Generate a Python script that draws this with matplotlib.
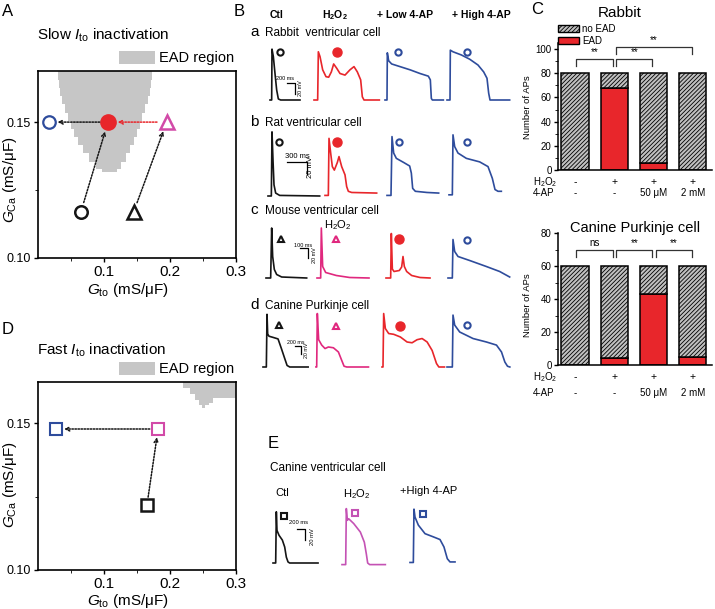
import numpy as np
import matplotlib.pyplot as plt
from matplotlib.patches import Patch
from matplotlib.transforms import blended_transform_factory

plt.rcParams['font.family'] = ['Liberation Sans', 'DejaVu Sans']
plt.rcParams['mathtext.fontset'] = 'custom'
plt.rcParams['mathtext.rm'] = 'Liberation Sans'
plt.rcParams['mathtext.it'] = 'Liberation Sans:italic'
plt.rcParams['mathtext.bf'] = 'Liberation Sans:bold'
plt.rcParams['hatch.linewidth'] = 0.6

# ---- data: panel A (slow Ito inactivation) ----
ead_a_gca = [0.1316, 0.134, 0.137, 0.140, 0.143, 0.146, 0.149, 0.152, 0.155, 0.158, 0.161, 0.164, 0.167, 0.170]
ead_a_left = [0.097, 0.088, 0.078, 0.068, 0.061, 0.055, 0.050, 0.045, 0.041, 0.037, 0.034, 0.032, 0.030, 0.030]
ead_a_right = [0.120, 0.126, 0.133, 0.139, 0.145, 0.150, 0.154, 0.158, 0.162, 0.166, 0.169, 0.171, 0.173, 0.173]
a_gto = [0.065, 0.145, 0.106, 0.195, 0.017]   # ctl circle, ctl triangle, H2O2 circle, H2O2 triangle, 4-AP circle
a_gca = [0.117, 0.117, 0.150, 0.150, 0.150]

# ---- data: panel D (fast Ito inactivation) ----
ead_d_gto = [0.215, 0.225, 0.235, 0.241, 0.246, 0.250, 0.255, 0.262, 0.268, 0.300]
ead_d_low = [0.164, 0.162, 0.160, 0.158, 0.156, 0.155, 0.156, 0.157, 0.1585, 0.1585]
d_gto = [0.165, 0.182, 0.027]   # ctl, H2O2, 4-AP squares
d_gca = [0.122, 0.148, 0.148]

# ---- data: panel B/E action potentials, (ms, mV) ----
rabbit_ctl = [(0, -85), (40, -85), (48, 11), (80, -3), (120, -35), (160, -66), (200, -83), (256, -85), (720, -85)]
rabbit_h2o2 = [(0, -85), (88, -85), (104, 6), (144, -3), (208, -28), (288, -41), (352, -42), (416, -32), (472, -17),
               (544, -25), (624, -35), (744, -38), (864, -28), (960, -22), (1040, -32), (1120, -47), (1160, -79),
               (1200, -85), (1568, -85)]
rabbit_low = [(0, -85), (48, -85), (56, 4), (88, -11), (160, -17), (360, -22), (600, -28), (840, -35), (1040, -40),
              (1088, -47), (1112, -82), (1136, -85), (1400, -85)]
rabbit_high = [(0, -85), (72, -85), (80, 9), (144, 6), (344, 0), (544, -8), (744, -19), (880, -32), (960, -44),
               (1000, -72), (1032, -85), (1504, -85)]

rat_ctl = [(0, -85), (50, -85), (60, 24), (75, -24), (90, -66), (115, -80), (175, -84), (775, -85)]
rat_h2o2 = [(0, -84), (50, -84), (60, 13), (85, -12), (110, -35), (140, -41), (185, -28), (210, -18), (250, -35),
            (300, -49), (325, -69), (350, -77), (400, -79), (775, -80)]
rat_low = [(0, -84), (60, -84), (75, 16), (100, -12), (140, -21), (250, -28), (340, -34), (365, -46), (385, -72),
           (425, -77), (600, -79), (775, -80)]
rat_high = [(0, -83), (50, -83), (60, 19), (85, -1), (135, -12), (260, -21), (460, -27), (585, -35), (650, -55),
            (690, -74), (735, -77), (785, -77)]

mouse_ctl = [(0, -85), (56, -85), (68, 15), (80, -42), (100, -68), (128, -78), (188, -83), (488, -85)]
mouse_h2o2 = [(0, -85), (44, -85), (52, 15), (68, -62), (104, -74), (232, -80), (392, -84), (624, -85)]
mouse_low = [(0, -85), (56, -85), (64, 4), (76, -67), (96, -72), (160, -70), (188, -63), (204, -42), (220, -62),
             (248, -72), (308, -80), (408, -84), (528, -85)]
mouse_high = [(0, -85), (52, -85), (60, -8), (80, -32), (120, -42), (260, -50), (460, -62), (620, -72), (740, -83)]

purk_ctl = [(0, -85), (118, -85), (142, 52), (165, 1), (212, -5), (354, -8), (531, -12), (649, -37), (767, -63),
            (850, -81), (944, -85), (1593, -85)]
purk_h2o2 = [(0, -85), (24, -85), (47, 54), (94, -14), (201, -28), (319, -37), (437, -33), (614, -35), (791, -46),
             (909, -68), (991, -83), (1086, -85), (1852, -85)]
purk_low = [(0, -85), (35, -85), (59, 54), (118, 15), (236, 2), (413, 0), (649, -7), (885, -20), (1062, -22),
            (1239, -14), (1416, -11), (1593, -20), (1770, -42), (1924, -76), (2006, -85), (2206, -85)]
purk_high = [(0, -85), (189, -85), (212, 50), (271, 24), (448, 6), (920, -11), (1392, -20), (1746, -28),
             (1924, -46), (2042, -72), (2136, -83), (2218, -85)]

cvm_ctl = [(0, -85), (70, -85), (87, 11), (104, -24), (157, -33), (244, -42), (305, -55), (348, -74), (392, -83),
           (435, -85), (1175, -85)]
cvm_h2o2 = [(0, -88), (96, -88), (113, 17), (139, -5), (174, -2), (305, -11), (479, -27), (583, -46), (635, -68),
            (670, -85), (722, -88), (1131, -88)]
cvm_high = [(0, -84), (87, -84), (104, 16), (131, 1), (218, -14), (392, -30), (609, -36), (783, -41), (887, -55),
            (974, -77), (1044, -83), (1175, -83)]

# symbol position on each trace (ms, mV)
rabbit_marks = [(240, 5), (545, 5), (320, 5), (490, 5)]
rat_marks = [(165, 6), (175, 7), (174, 7), (276, 7)]
mouse_marks = [(176, -7), (233, -7), (160, -7), (233, -8)]
purk_marks = [(565, 23), (706, 21), (621, 21), (706, 23)]
cvm_marks = [(287, 4), (347, 8), (331, 6)]

# ---- data: panel C ----
conditions = [0, 1, 2, 3]
h2o2_row = ['-', '+', '+', '+']
ap4_row = ['-', '-', '50 \u03bcM', '2 mM']
rabbit_total = [80, 80, 80, 80]
rabbit_ead = [0, 68, 6, 0]
rabbit_pairs = [(0, 1), (1, 2), (1, 3)]
rabbit_levels = [92, 92, 102]
rabbit_sig = ['**', '**', '**']
canine_total = [60, 60, 60, 60]
canine_ead = [0, 4, 43, 5]
canine_pairs = [(0, 1), (1, 2), (2, 3)]
canine_levels = [70, 70, 70]
canine_sig = ['ns', '**', '**']

BLACK = '#151515'
RED = '#e8262b'
BLUE = '#2e4c9c'
PINK = '#e0287e'
PURPLE = '#c452b4'
MAG = '#d24aa8'
GRAY = '#c6c6c6'
HATCHFACE = '#c0c0c0'
HATCH = '////////'

W, H = 715, 609
fig = plt.figure(figsize=(W / 100, H / 100), dpi=100)


def px_axes(l, t, r, b):
    return fig.add_axes([l / W, 1 - b / H, (r - l) / W, (b - t) / H])


def ftext(x, y, s, **kw):
    kw.setdefault('va', 'center')
    fig.text(x / W, 1 - y / H, s, **kw)


# ================= A and D =================
def phase_axes(t, b, ylim_top):
    ax = px_axes(38, t, 236, b)
    ax.set_xlim(0, 0.3)
    ax.set_ylim(0.10, ylim_top)
    ax.set_xticks([0.1, 0.2, 0.3])
    ax.set_xticklabels(['0.1', '0.2', '0.3'], fontsize=11)
    ax.set_xticks([0.05, 0.15, 0.25], minor=True)
    ax.set_yticks([0.10, 0.15])
    ax.set_yticklabels(['0.10', '0.15'], fontsize=9)
    ax.set_yticks([0.125], minor=True)
    ax.tick_params(direction='out', length=3, width=1, pad=2)
    ax.tick_params(which='minor', direction='out', length=2)
    for s in ax.spines.values():
        s.set_linewidth(1.2)
    ax.legend(handles=[Patch(facecolor=GRAY, edgecolor='none', label='EAD region')], loc='lower right',
              bbox_to_anchor=(0.99, 1.03), frameon=False, fontsize=10.5, handlelength=2.5,
              handleheight=0.95, handletextpad=0.25, borderpad=0, borderaxespad=0)
    return ax


def arrow(ax, p0, p1, color, sa, sb):
    ax.annotate('', xy=p1, xytext=p0,
                arrowprops=dict(arrowstyle='->', color=color, lw=1.1, linestyle=(0, (1, 1)),
                                shrinkA=sa, shrinkB=sb, mutation_scale=7))


axA = phase_axes(71, 258, 0.1688)
axA.fill_betweenx(ead_a_gca, ead_a_left, ead_a_right, step='mid', color=GRAY, lw=0)
pa = list(zip(a_gto, a_gca))
arrow(axA, pa[0], pa[2], BLACK, 7, 7)
arrow(axA, pa[1], pa[3], BLACK, 7, 7)
arrow(axA, pa[3], pa[2], RED, 7, 7)
arrow(axA, pa[2], pa[4], BLACK, 6, 6)
axA.plot(a_gto[0], a_gca[0], 'o', mfc='none', mec=BLACK, mew=1.8, ms=9)
axA.plot(a_gto[1], a_gca[1], '^', mfc='none', mec=BLACK, mew=1.8, ms=10)
axA.plot(a_gto[2], a_gca[2], 'o', color=RED, ms=11)
axA.plot(a_gto[3], a_gca[3], '^', mfc='none', mec=MAG, mew=1.8, ms=10)
axA.plot(a_gto[4], a_gca[4], 'o', mfc='none', mec=BLUE, mew=1.6, ms=9)

axD = phase_axes(382, 570, 0.164)
axD.fill_between(ead_d_gto, ead_d_low, 0.17, step='mid', color=GRAY, lw=0)
pd_ = list(zip(d_gto, d_gca))
arrow(axD, pd_[0], pd_[1], BLACK, 6, 6)
arrow(axD, pd_[1], pd_[2], BLACK, 6, 6)
axD.plot(d_gto[0], d_gca[0], 's', mfc='none', mec=BLACK, mew=1.8, ms=8)
axD.plot(d_gto[1], d_gca[1], 's', mfc='none', mec=MAG, mew=1.5, ms=8)
axD.plot(d_gto[2], d_gca[2], 's', mfc='none', mec=BLUE, mew=1.5, ms=8)

GCA = r'$G_{\rm Ca}$ (mS/' + '\u03bcF)'
GTO = r'$G_{\rm to}$ (mS/' + '\u03bcF)'
ftext(2, 11, 'A', fontsize=12)
ftext(37, 35, r'Slow $I_{\rm to}$ inactivation', fontsize=11)
ftext(10, 180, GCA, fontsize=11, rotation=90, ha='center')
ftext(128, 290, GTO, fontsize=11, ha='center')
ftext(2, 329, 'D', fontsize=12)
ftext(37, 350, r'Fast $I_{\rm to}$ inactivation', fontsize=11)
ftext(10, 485, GCA, fontsize=11, rotation=90, ha='center')
ftext(128, 601, GTO, fontsize=11, ha='center')


# ================= B and E traces =================
def trace_row(base_y, ms_px, mv_px, top, bottom, left=262, right=512):
    ax = px_axes(left, top, right, bottom)
    ax.set_xlim(0, (right - left) * ms_px)
    ax.set_ylim(-85 - (bottom - base_y) * mv_px, -85 + (base_y - top) * mv_px)
    ax.axis('off')
    to_ms = lambda px: (px - left) * ms_px
    to_mv = lambda py: -85 + (base_y - py) * mv_px
    return ax, to_ms, to_mv


def draw_traces(row, traces, starts, colors, marks, styles):
    ax, to_ms, to_mv = row
    for tr, x0, c, mk, st in zip(traces, starts, colors, marks, styles):
        t = np.array([p[0] for p in tr]) + to_ms(x0)
        v = [p[1] for p in tr]
        ax.plot(t, v, color=c, lw=1.2, solid_joinstyle='round')
        sym, filled, ms = st
        if filled:
            ax.plot(mk[0] + to_ms(x0), mk[1], sym, color=c, ms=ms)
        else:
            ax.plot(mk[0] + to_ms(x0), mk[1], sym, mfc='none', mec=c, mew=1.5, ms=ms)


def scale_bar(row, cx, cy, t_len, v_len):
    ax, to_ms, to_mv = row
    x, y = to_ms(cx), to_mv(cy)
    ax.plot([x - t_len, x, x], [y, y, y - v_len], color='k', lw=0.9)


circ_styles = [('o', False, 4.5), ('o', True, 6.5), ('o', False, 4.5), ('o', False, 4.5)]
tri_styles = [('^', False, 5), ('^', False, 5), ('o', True, 6.5), ('o', False, 4.5)]
sq_styles = [('s', False, 5), ('s', False, 5), ('s', False, 5)]

row_a = trace_row(100, 24, 1.887, 40, 106)
draw_traces(row_a, [rabbit_ctl, rabbit_h2o2, rabbit_low, rabbit_high], [270, 314, 385, 447],
            [BLACK, RED, BLUE, BLUE], rabbit_marks, circ_styles)
scale_bar(row_a, 295, 83, 200, 20)

row_b = trace_row(196, 15, 1.7, 126, 201)
draw_traces(row_b, [rat_ctl, rat_h2o2, rat_low, rat_high], [268, 325, 387, 449],
            [BLACK, RED, BLUE, BLUE], rat_marks, circ_styles)
scale_bar(row_b, 307, 162, 300, 20)

row_c = trace_row(278, 12, 2.0, 226, 283)
draw_traces(row_c, [mouse_ctl, mouse_h2o2, mouse_low, mouse_high], [266, 317, 386, 448],
            [BLACK, PINK, RED, BLUE], mouse_marks, tri_styles)
scale_bar(row_c, 308, 248, 100, 20)

row_d = trace_row(367, 35.3, 2.6, 308, 371)
draw_traces(row_d, [purk_ctl, purk_h2o2, purk_low, purk_high], [263, 316, 382, 447],
            [BLACK, PINK, RED, BLUE], purk_marks, tri_styles)
scale_bar(row_d, 301, 346, 200, 20)

row_e = trace_row(563, 26.1, 1.875, 503, 568)
draw_traces(row_e, [cvm_ctl, cvm_h2o2, cvm_high], [273, 342, 410],
            [BLACK, PURPLE, BLUE], cvm_marks, sq_styles)
scale_bar(row_e, 305, 529, 200, 20)

# scale bar labels
for x, y, tl, vx, vy, fs in [(285, 78, '200 ms', 300, 88, 4), (297, 156, '300 ms', 311, 167, 5.5),
                              (303, 245, '100 ms', 314, 255, 4), (296, 342, '200 ms', 306, 350, 3.8),
                              (299, 523, '200 ms', 312, 537, 4.2)]:
    ftext(x, y, tl, fontsize=fs, ha='center')
    ftext(vx, vy, '20 mV', fontsize=fs, ha='center', rotation=90)

ftext(234, 12, 'B', fontsize=12)
for x, s in [(277, 'Ctl'), (335, r'$\mathbf{H_2O_2}$'), (405, '+ Low 4-AP'), (481, '+ High 4-AP')]:
    ftext(x, 15, s, fontsize=7.5, ha='center', fontweight='bold')
for y, letter, s in [(33, 'a', 'Rabbit  ventricular cell'), (123, 'b', 'Rat ventricular cell'),
                     (211, 'c', 'Mouse ventricular cell'), (306, 'd', 'Canine Purkinje cell')]:
    ftext(250, y - 1, letter, fontsize=11)
    ftext(265, y, s, fontsize=8.5)
ftext(338, 225, r'H$_2$O$_2$', fontsize=8, ha='center')

ftext(268, 444, 'E', fontsize=12)
ftext(270, 468, 'Canine ventricular cell', fontsize=8.5)
ftext(275, 493, 'Ctl', fontsize=8)
ftext(343, 494, r'H$_2$O$_2$', fontsize=8)
ftext(400, 491, '+High 4-AP', fontsize=8)


# ================= C bar charts =================
def bar_panel(t, b, ymax, total, ead, pairs, levels, sig, row1_py, row2_py):
    ax = px_axes(558, t, 712, b)
    x = np.array(conditions)
    total = np.array(total)
    ead = np.array(ead)
    ax.bar(x, ead, width=0.69, color=RED, edgecolor='k', lw=1.1)
    ax.bar(x, total - ead, bottom=ead, width=0.69, color=HATCHFACE, edgecolor='k', hatch=HATCH, lw=1.1)
    ax.set_xlim((558 - 575) / 39.3, (712 - 575) / 39.3)
    ax.set_ylim(0, ymax)
    ax.set_xticks([])
    ax.set_yticks(np.arange(0, ymax + 1, 20))
    ax.set_yticks(np.arange(10, ymax, 20), minor=True)
    ax.tick_params(axis='y', labelsize=7, length=3, width=1, pad=1.5, direction='out')
    ax.tick_params(axis='y', which='minor', length=2, direction='out')
    for s in ['top', 'right']:
        ax.spines[s].set_visible(False)
    for s in ['left', 'bottom']:
        ax.spines[s].set_linewidth(1.1)
    top = ax.get_ylim()[1]
    drop = 0.06 * top
    for (i, j), lv, s in zip(pairs, levels, sig):
        x1, x2 = i + (0.05 if i > 0 else 0.02), j - 0.03
        ax.plot([x1, x1, x2, x2], [lv - drop, lv, lv, lv - drop], color='#333333', lw=0.9, clip_on=False)
        ax.text((x1 + x2) / 2, lv + 0.01 * top, s, ha='center', va='bottom', fontsize=7, clip_on=False)
    trans = blended_transform_factory(ax.transData, ax.transAxes)
    hgt = b - t
    for xi, a, c in zip(x, h2o2_row, ap4_row):
        ax.text(xi, (b - row1_py) / hgt, a, transform=trans, ha='center', va='center', fontsize=7.5)
        ax.text(xi, (b - row2_py) / hgt, c, transform=trans, ha='center', va='center', fontsize=7)
    ftext(533, row1_py, r'H$_2$O$_2$', fontsize=7)
    ftext(533, row2_py, '4-AP', fontsize=7)
    return ax


axR = bar_panel(43, 170, 105, rabbit_total, rabbit_ead, rabbit_pairs, rabbit_levels, rabbit_sig, 182, 193)
axR.legend(handles=[Patch(facecolor=HATCHFACE, edgecolor='k', hatch=HATCH, label='no EAD'),
                    Patch(facecolor=RED, edgecolor='k', label='EAD')],
           loc='lower left', bbox_to_anchor=(0.0, 0.975), frameon=False, fontsize=7, handlelength=2.2,
           handleheight=0.75, handletextpad=0.3, labelspacing=0.2, borderpad=0, borderaxespad=0)
axK = bar_panel(233, 365, 80, canine_total, canine_ead, canine_pairs, canine_levels, canine_sig, 377, 393)

ftext(531, 10, 'C', fontsize=12)
ftext(620, 13, 'Rabbit', fontsize=11, ha='center')
ftext(635, 228, 'Canine Purkinje cell', fontsize=10.5, ha='center')
ftext(527, 107, 'Number of APs', fontsize=6.8, rotation=90, ha='center')
ftext(527, 305, 'Number of APs', fontsize=6.8, rotation=90, ha='center')

fig.savefig('out.png', dpi=100)
